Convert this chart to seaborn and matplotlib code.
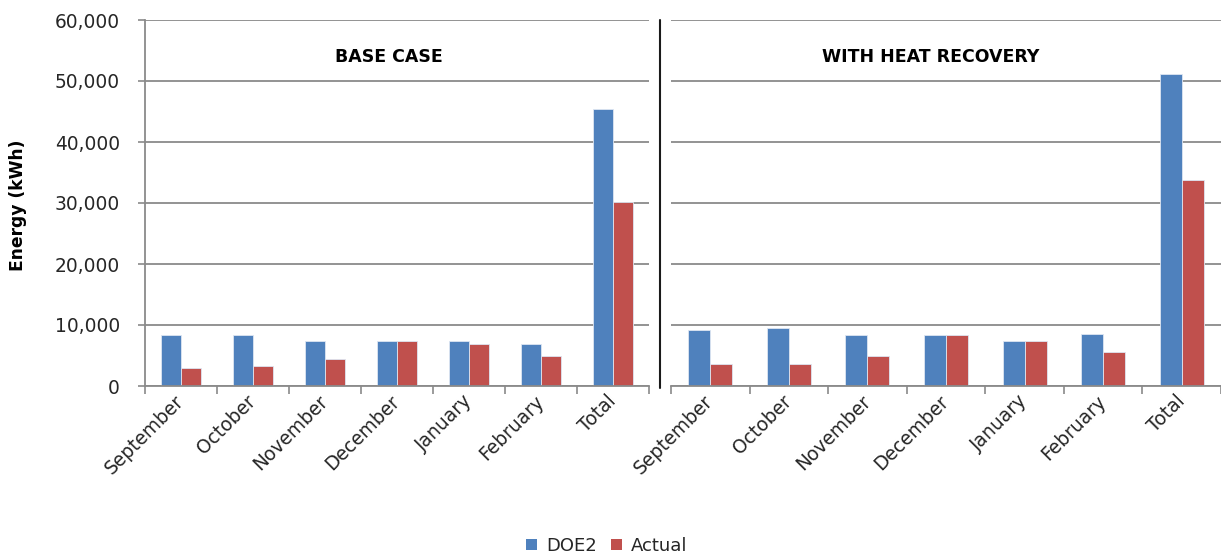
import matplotlib
matplotlib.use("Agg")
import matplotlib.pyplot as plt
import matplotlib.transforms as mtransforms
import seaborn as sns
import pandas as pd
import numpy as np
from matplotlib.lines import Line2D
from matplotlib.patches import Patch
from matplotlib.ticker import FixedLocator, FuncFormatter

# Monthly energy use, simulated (DOE2) vs. measured (Actual)
months = ["September", "October", "November", "December", "January", "February", "Total"]
series = ["DOE2", "Actual"]
base_doe2 = [8400, 8400, 7400, 7400, 7400, 6900, 45400]
base_actual = [3000, 3300, 4500, 7400, 6900, 5000, 30200]
hr_doe2 = [9200, 9500, 8300, 8300, 7400, 8600, 51200]
hr_actual = [3600, 3600, 5000, 8300, 7400, 5600, 33800]
panel_titles = ["BASE CASE", "WITH HEAT RECOVERY"]
y_ticks = [0, 10000, 20000, 30000, 40000, 50000, 60000]
colors = ["#4F81BD", "#C0504D"]

sns.set_style("white")
plt.rcParams["font.family"] = ["DejaVu Sans"]
plt.rcParams["font.size"] = 13

W, H = 1221, 556
fig = plt.figure(figsize=(W / 100, H / 100), dpi=100)
bottom = (H - 386) / H
height = 366 / H
ax1 = fig.add_axes([145 / W, bottom, 504 / W, height])
ax2 = fig.add_axes([671 / W, bottom, 550 / W, height])

grey = "#8A8A8A"
text_col = "#262626"


def panel_frame(doe2, actual):
    return pd.DataFrame({
        "Month": months * 2,
        "Energy": list(doe2) + list(actual),
        "Series": [series[0]] * len(months) + [series[1]] * len(months),
    })


panels = [(ax1, base_doe2, base_actual), (ax2, hr_doe2, hr_actual)]
for i, (ax, doe2, actual) in enumerate(panels):
    df = panel_frame(doe2, actual)
    sns.barplot(data=df, x="Month", y="Energy", hue="Series", order=months,
                hue_order=series, palette=colors, width=0.56, errorbar=None,
                legend=False, ax=ax, edgecolor="#DDE6F2", linewidth=0.6,
                saturation=1)
    ax.set_xlim(-0.5, len(months) - 0.5)
    ax.set_ylim(0, 60000)
    ax.set_yticks(y_ticks)
    ax.yaxis.grid(True, color=grey, linewidth=1.3)
    ax.set_axisbelow(True)
    ax.set_xlabel("")
    ax.set_ylabel("")

    ax.set_xticks(range(len(months)))
    ax.set_xticklabels(months, rotation=45, ha="right", va="center",
                       rotation_mode="anchor", color=text_col, fontsize=13.4)
    shift = mtransforms.ScaledTranslation(6 / 100, 0, fig.dpi_scale_trans)
    for lbl in ax.get_xticklabels():
        lbl.set_transform(lbl.get_transform() + shift)
    ax.xaxis.set_minor_locator(FixedLocator(np.arange(-0.5, len(months), 1.0)))
    ax.tick_params(axis="x", which="major", length=0, pad=9)
    ax.tick_params(axis="x", which="minor", length=6, width=1.2, color=grey,
                   direction="out", bottom=True)

    for side in ("top", "right"):
        ax.spines[side].set_visible(False)
    ax.spines["bottom"].set_color(grey)
    ax.spines["bottom"].set_linewidth(1.3)

    ax.text([0.484, 0.472][i], 0.899, panel_titles[i], transform=ax.transAxes,
            ha="center", va="center", fontweight="bold", fontsize=12.5,
            color="black")

ax1.yaxis.set_major_formatter(FuncFormatter(lambda v, p: f"{int(v):,}"))
ax1.tick_params(axis="y", length=5, width=1.2, color=grey, direction="out",
                left=True, labelcolor=text_col, labelsize=13.4, pad=13)
ax1.spines["left"].set_color(grey)
ax1.spines["left"].set_linewidth(1.3)

ax2.spines["left"].set_visible(False)
ax2.tick_params(axis="y", left=False, labelleft=False)

# Divider between the two cases
fig.add_artist(Line2D([660 / W, 660 / W], [(H - 388) / H, (H - 20) / H],
                      color="#1A1A1A", linewidth=1.5))

fig.text(18 / W, 1 - 205 / H, "Energy (kWh)", rotation=90, ha="center",
         va="center", fontweight="bold", fontsize=12.3, color="black")

handles = [Patch(facecolor=c, edgecolor="none") for c in colors]
fig.legend(handles, series, loc="center", bbox_to_anchor=(607 / W, 1 - 546 / H),
           ncol=2, frameon=False, handlelength=0.6, handleheight=0.6,
           columnspacing=0.8, handletextpad=0.5, fontsize=13,
           labelcolor=text_col, borderaxespad=0)

fig.savefig("out.png", dpi=100)
